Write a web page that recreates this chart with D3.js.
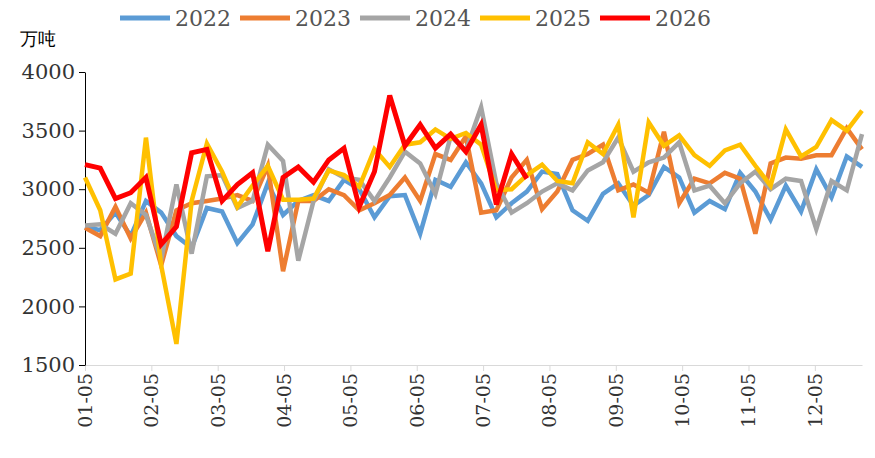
<!DOCTYPE html>
<html><head><meta charset="utf-8">
<script src="https://cdn.jsdelivr.net/npm/d3@7"></script>
<style>body{margin:0;background:#fff}text{font-family:"DejaVu Serif","Liberation Serif",serif}</style>
</head><body><div id="chart"></div>
<script>
var years = ["2022", "2023", "2024", "2025", "2026"];
var colors = ["#5b9bd5", "#ed7d31", "#a5a5a5", "#ffc000", "#ff0000"];
var monthLabels = ["01-05","02-05","03-05","04-05","05-05","06-05","07-05","08-05","09-05","10-05","11-05","12-05"];
var yTicks = [1500, 2000, 2500, 3000, 3500, 4000];

var s2022 = [2680,2650,2800,2600,2900,2800,2600,2500,2840,2810,2540,2700,3050,2780,2900,2950,2900,3080,3000,2760,2940,2950,2620,3080,3020,3230,3050,2760,2880,2980,3150,3130,2820,2730,2960,3050,2860,2950,3190,3100,2800,2900,2830,3140,2980,2740,3030,2810,3170,2930,3280,3190];
var s2023 = [2670,2600,2850,2580,2800,2350,2820,2880,2900,2920,2950,2900,3200,2300,2900,2900,3000,2950,2820,2880,2950,3100,2900,3300,3250,3450,2800,2820,3100,3250,2830,2980,3250,3300,3380,2990,3040,2970,3490,2880,3090,3050,3140,3090,2620,3220,3270,3260,3290,3290,3520,3340];
var s2024 = [2690,2700,2620,2880,2780,2400,3040,2450,3110,3120,2840,2900,3380,3240,2390,2900,3170,3100,3080,2900,3100,3320,3220,2960,3450,3330,3700,3050,2800,2880,2980,3050,2990,3160,3230,3440,3150,3230,3270,3400,2990,3030,2880,3050,3150,3000,3090,3070,2660,3070,2990,3470];
var s2025 = [3100,2820,2230,2280,3440,2350,1680,2900,3390,3150,2850,3030,3200,2910,2910,2920,3160,3120,3020,3340,3190,3380,3400,3510,3430,3480,3380,2990,3000,3120,3210,3070,3050,3400,3300,3550,2760,3570,3370,3460,3290,3200,3330,3380,3200,3030,3510,3280,3360,3590,3500,3670];
var s2026 = [3210,3180,2920,2970,3100,2530,2680,3310,3340,2900,3040,3140,2470,3100,3190,3060,3250,3350,2850,3150,3800,3370,3550,3350,3470,3320,3550,2870,3300,3090];
var series = [s2022, s2023, s2024, s2025, s2026];

var svg = d3.select("#chart").append("svg").attr("width", 875).attr("height", 458);

var x = d3.scaleLinear().domain([0, 51]).range([85, 862]);
var y = d3.scaleLinear().domain([1500, 4000]).range([365, 72]);
var monthPos = monthLabels.map((d, i) => i * 4.355);

svg.append("g").attr("transform", "translate(0,365)")
  .call(d3.axisBottom(x).tickValues(monthPos).tickFormat((d, i) => monthLabels[i]).tickSize(6).tickSizeOuter(0))
  .call(g => g.select(".domain").attr("stroke", "#d9d9d9"))
  .call(g => g.selectAll(".tick line").attr("stroke", "#d9d9d9"))
  .call(g => g.selectAll(".tick text").attr("transform", "rotate(-90)").attr("x", -8).attr("y", -7)
    .attr("text-anchor", "end").attr("font-size", 19).attr("fill", "#333"));

svg.append("g").attr("transform", "translate(85,0)")
  .call(d3.axisLeft(y).tickValues(yTicks).tickFormat(d3.format("d")).tickSize(6).tickSizeOuter(0))
  .call(g => g.select(".domain").attr("stroke", "#000"))
  .call(g => g.selectAll(".tick text").attr("font-size", 21).attr("fill", "#333").attr("x", -10));

svg.append("text").attr("x", 20).attr("y", 45).attr("font-size", 18).text("万吨");

var line = d3.line().x((d, i) => x(i)).y(d => y(d));
series.forEach(function(s, k) {
  svg.append("path").datum(s).attr("d", line).attr("fill", "none")
    .attr("stroke", colors[k]).attr("stroke-width", k == 4 ? 5 : 4.5).attr("stroke-linejoin", "miter");
});

var legend = svg.append("g");
years.forEach(function(yr, k) {
  var lx = 120 + k * 120;
  legend.append("line").attr("x1", lx).attr("x2", lx + 50).attr("y1", 18).attr("y2", 18)
    .attr("stroke", colors[k]).attr("stroke-width", 5);
  legend.append("text").attr("x", lx + 55).attr("y", 26).attr("font-size", 22).attr("fill", "#555").text(yr);
});
</script></body></html>
